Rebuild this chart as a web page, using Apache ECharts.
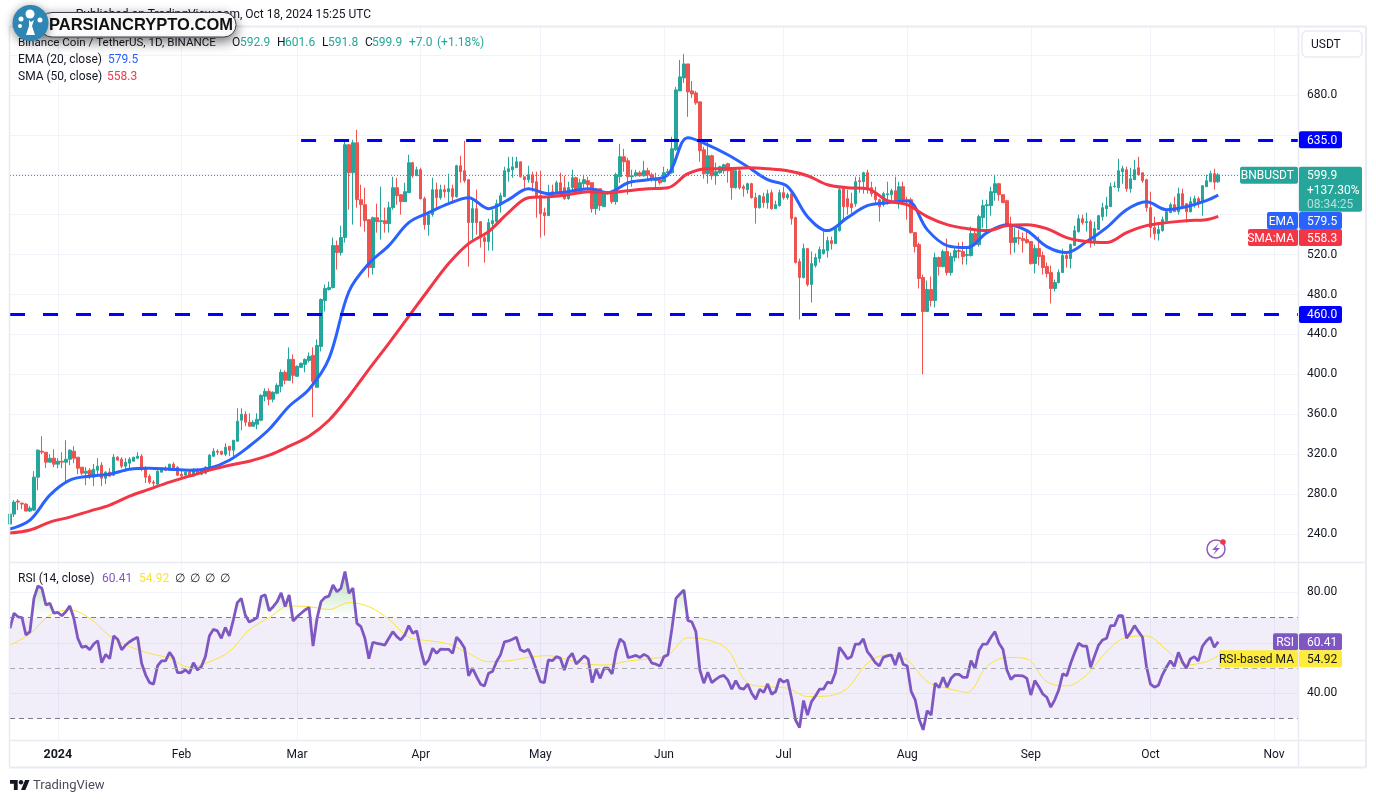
<!DOCTYPE html>
<html lang="en">
<head>
<meta charset="UTF-8">
<title>BNBUSDT 1D</title>
<script src="https://cdn.jsdelivr.net/npm/echarts@6/dist/echarts.min.js"></script>
<style>
  html, body { margin: 0; padding: 0; background: #fff; }
  #chart { width: 1376px; height: 803px; }
</style>
</head>
<body>
<div id="chart"></div>
<script>
// daily candles. index 0 is 2023-12-20
const opens = [
  250,260,273,271,270,263,264,297,323,322,
  312,316,310,313,312,315,323,317,307,301,
  304,297,304,309,296,302,299,317,315,308,
  311,313,316,318,305,298,292,290,302,306,
  304,310,307,300,299,302,298,304,300,301,
  306,318,323,323,320,328,324,333,354,360,
  352,348,350,354,378,383,375,381,388,402,
  394,415,398,407,410,414,419,387,428,474,
  485,487,529,522,537,630,602,632,575,570,
  555,507,557,553,554,551,567,587,580,573,
  582,612,599,605,576,550,560,585,577,585,
  583,586,578,609,604,595,552,566,553,537,
  533,551,553,570,578,603,605,607,613,598,
  595,600,593,579,562,559,583,582,592,587,
  576,587,597,583,591,594,592,566,586,568,
  582,582,573,598,618,614,598,599,602,599,
  604,600,594,595,593,602,602,625,684,697,
  711,684,682,673,625,601,619,599,602,604,
  611,605,587,604,588,585,591,577,567,578,
  572,582,566,569,582,577,581,557,513,497,
  526,490,509,516,521,524,534,531,544,586,
  576,571,571,594,593,602,587,582,575,570,
  580,580,584,572,588,574,575,542,530,497,
  463,485,474,517,508,523,502,517,524,523,
  519,519,541,530,557,569,569,582,591,580,
  574,549,532,537,536,535,533,511,526,519,
  508,502,486,492,502,519,516,529,543,556,
  552,553,534,545,558,566,568,588,587,603,
  605,586,595,607,602,595,567,547,541,544,
  554,562,570,563,581,571,563,572,576,572,
  588,593,601,592.9
];
const closes = [
  260,272,272,270,263,266,297,324,322,312,
  316,310,313,312,315,324,316,306,301,303,
  298,305,308,296,302,298,317,314,308,312,
  315,317,318,305,297,292,291,303,306,304,
  310,306,299,298,302,298,304,300,303,307,
  319,323,322,320,327,324,334,353,360,352,
  348,352,355,379,383,375,382,389,402,394,
  415,399,408,411,415,418,393,429,475,486,
  487,529,522,537,630,602,632,575,570,554,
  507,557,553,554,551,567,587,579,573,583,
  612,599,605,576,550,560,585,577,585,583,
  586,578,609,603,594,552,566,552,537,533,
  552,554,571,579,604,606,608,613,598,595,
  600,592,578,561,559,578,579,592,582,576,
  587,597,582,592,595,590,566,586,569,583,
  581,573,600,618,613,598,599,602,599,604,
  600,595,595,592,602,603,626,685,698,711,
  683,681,672,624,601,619,599,603,608,610,
  604,587,604,587,586,591,577,567,579,572,
  581,566,570,582,577,580,556,512,497,526,
  490,511,517,525,525,534,531,547,585,568,
  568,567,593,593,602,586,581,575,568,581,
  581,584,572,588,575,573,542,528,496,463,
  485,474,517,508,523,502,518,524,523,518,
  520,541,530,558,569,570,583,591,580,572,
  548,532,537,536,534,532,511,526,518,507,
  501,486,492,502,519,516,530,544,556,552,
  553,533,546,559,567,569,588,588.5,604,606,
  586,596,605,600,594,567,547,541,545,555,
  563,570,563,581,569,563,573,576,571,589,
  594,601,592.5,599.9
];
const highs = [
  262,274,275,271,271,268,303,325,338,322,
  320,325,316,322,334,325,328,317,307,307,
  306,310,316,312,303,306,320,318,317,316,
  317,317,322,320,308,300,294,304,307,308,
  310,312,308,304,303,304,306,306,305,308,
  320,326,325,323,331,328,334,366,366,363,
  361,354,361,380,386,386,383,391,405,404,
  427,420,409,412,416,422,427,435,476,490,
  493,537,534,549,635,631,635,645,590,587,
  555,558,571,588,567,573,598,597,580,592,
  620,613,608,607,578,563,597,592,590,590,
  601,590,610,619,634,595,576,585,553,542,
  556,565,575,582,608,618,618,618,613,598,
  609,603,603,604,567,590,590,594,602,599,
  593,605,598,596,600,598,592,587,586,583,
  583,583,602,631,626,617,605,605,604,614,
  607,602,602,597,608,606,638,688,715,721,
  711,694,684,673,628,635,620,612,609,611,
  612,606,605,606,590,592,592,582,580,582,
  585,585,574,585,588,582,583,558,516,531,
  526,523,521,528,545,538,538,548,587,587,
  585,582,598,598,603,605,593,588,576,583,
  593,586,598,593,593,578,577,542,532,500,
  494,498,522,518,525,536,522,527,532,533,
  527,548,545,560,575,575,588,600,592,580,
  575,558,547,545,542,543,533,530,538,523,
  512,509,495,505,526,522,531,549,560,560,
  562,555,553,559,572,578,592,593,616,609,
  608,607,615,618,602,596,583,558,551,558,
  564,572,578,587,586,571,578,579,578,589,
  600,604,606,601.6
];
const lows = [
  248,257,264,265,263,262,263,284,320,306,
  312,307,306,306,293,309,311,300,299,289,
  295,288,299,288,290,298,298,314,306,305,
  306,313,315,303,291,290,288,290,302,303,
  304,306,298,297,299,298,298,299,299,300,
  304,317,319,319,318,318,318,333,344,348,
  348,348,345,353,373,369,372,380,382,390,
  394,391,398,407,402,412,357,387,423,463,
  484,486,505,519,532,565,550,567,548,543,
  497,500,542,535,542,542,565,570,560,573,
  582,597,599,575,545,539,558,565,575,577,
  572,571,577,592,592,508,535,540,527,512,
  524,524,549,562,578,593,597,607,597,586,
  592,583,557,537,539,559,577,580,580,575,
  575,582,582,582,587,585,562,560,564,568,
  580,571,570,592,603,580,588,598,598,598,
  595,593,587,590,593,598,601,624,684,692,
  658,677,670,613,596,591,595,590,601,601,
  592,575,586,585,578,581,576,551,566,567,
  566,565,566,568,575,575,550,511,455,496,
  488,472,507,512,520,517,525,531,543,553,
  560,561,568,582,581,581,578,570,553,568,
  570,572,571,566,570,555,541,522,486,400,
  463,468,467,499,507,499,499,513,516,510,
  510,518,529,528,547,546,559,574,574,572,
  548,520,522,530,522,531,510,501,509,500,
  497,471,483,491,502,507,506,529,542,550,
  543,527,529,545,554,558,568,587,583,591,
  583,582,595,599,592,563,537,535,534,543,
  552,562,563,560,566,552,562,567,567,559,
  588,593,585,591.8
];

// moving averages read every 5th candle, plus the last one
const ema20 = [
  245,254,279,294,298,300,305,306,305,304,306,314,328,345,368,385,416,483,511,529,
  552,562,571,577,566,575,586,581,583,586,582,592,595,600,637,630,620,608,595,588,
  558,544,557,569,572,574,545,529,527,542,550,544,528,522,533,547,565,573,565,568,
  574,579.5
];
const sma50 = [
  241,244,252,257,263,269,278,285,292,298,304,309,313,319,328,338,354,378,405,431,
  458,485,511,531,543,562,577,578,580,583,582,584,586,587,601,606,606,607,606,604,
  599,590,587,586,574,570,558,550,546,544,549,550,546,537,533,532,542,549,552,554,
  555,558.3
];
const rsiMa = [
  59.1,63.5,71,73,69.7,62.7,58.5,55.8,53.9,50.3,52.5,56.5,65.1,70,74.6,74.3,73.2,75.9,74.3,69.3,
  62.2,60.8,59.5,55.8,52.5,52.8,54.2,54.9,53.2,51.5,51.2,52.8,53.6,55.2,62,61.1,57.2,44,42.6,42,
  38.7,38.9,42,51.9,55.2,53.2,44.6,42,40.4,50.6,54.2,53.6,44.6,42.9,47.3,56.5,62.2,62.7,57.2,51.2,
  52.5,54.92
];
const rsi14 = [
  65.7,71.7,70.3,70,63.1,64.4,77.6,82.5,81.6,75,
  75.6,71.7,72,70.7,72.3,74.6,69.7,61.8,58.2,58.7,
  57.2,59.5,60.8,52.1,55.4,53.7,62.7,61.4,57.2,59.1,
  60.4,61.4,62.2,51.9,47.3,44.2,43.6,50.8,52.8,52.8,
  56.2,53.9,48.2,48.2,49.2,47.9,52.1,49.2,50.6,54.5,
  62.7,65.3,64.7,61.8,66.1,62.7,69,75.9,77.6,71,
  68.2,69,70,78.3,79,72.7,74.3,76.3,79.8,74.3,
  78.9,68.6,70.3,71.7,73,74,58.7,69.7,76.3,78,
  78.5,82.9,80.2,81.6,88.2,79.6,81.6,67.7,66.4,61.8,
  53.7,60.2,59.8,59.5,59.1,61.8,64.4,62.4,61.1,63.1,
  66.8,63.7,64.7,57.2,51.2,53.2,57.8,55.8,57.5,57.4,
  57.4,55.8,62.2,60.4,57.8,46.9,49.9,46.6,43.6,42.9,
  47.9,48.6,52.5,55.2,60.4,60.7,61.4,62.2,57.2,56.5,
  57.4,53.9,49.2,44.6,44.2,53.2,52.9,54.5,53.9,49.2,
  53.9,55.8,51.6,53.2,54.8,53.5,44.2,49.5,45.9,49.9,
  49.9,47.7,56.5,61.5,60.1,54.1,54.5,55,54.2,55.4,
  54.5,51.9,51.5,50.8,54.5,55.2,65.7,77.6,79.3,80.9,
  68.8,68.2,64.4,49.2,44,48.3,44.2,45.5,46.6,47.1,
  45.3,41.6,45,42,41.6,43.6,40,37.6,41.6,40.3,
  43.7,39.6,40.7,45.7,44.4,45.3,38,29.4,26.4,37.1,
  31.3,36.7,38.9,41.6,41.6,44.4,44,48.2,58.2,56.1,
  53.7,54.5,59.5,59.5,61.5,56.5,54.5,52.1,50.8,54.2,
  54.8,55.2,51.2,56.1,51.5,50.8,40.7,37.4,29.7,25.5,
  33.1,31.4,44,42.2,46.3,42.4,45.9,47.5,47.5,46.3,
  46.3,52.9,49.8,56.9,59.5,59.5,62.2,64.4,59.8,57.4,
  49.2,45.5,47,47,46.9,45.9,39.3,45,42.6,39.7,
  38.4,34.5,37.4,41.3,47.7,46.9,51.9,56.1,59.8,58.7,
  58.7,50.3,54.8,59.1,61.1,61.8,66.8,66.8,70.7,70.7,
  61.8,64,66.8,64.4,62.2,50.6,43.6,42.4,43.2,47.3,
  50.3,52.9,50.6,56.2,52.5,49.9,53.6,54.5,52.8,58.5,
  60.7,62.2,58.2,60.41
];

const priceTicks = [240,280,320,360,400,440,480,520,560,600,640,680,720];
const priceLabels = [240,280,320,360,400,440,480,520,680];
const rsiTicks = [40,60,80];
const rsiLabels = [40,80];
const resistance = 635.0;
const support = 460.0;
const lastPrice = 599.9;
const lastEma = 579.5;
const lastSma = 558.3;
const lastRsi = 60.41;
const lastRsiMa = 54.92;

// day categories, the axis runs on past the last candle to about Nov 8
const days = [];
for (let d = new Date(Date.UTC(2023, 11, 20)); days.length < 324; d.setUTCDate(d.getUTCDate() + 1)) {
  days.push(d.toISOString().slice(0, 10));
}
const monthNames = ['Jan','Feb','Mar','Apr','May','Jun','Jul','Aug','Sep','Oct','Nov','Dec'];
const isMonthStart = (i) => days[i].slice(8) === '01';

const candles = opens.map((o, i) => [o, closes[i], lows[i], highs[i]]);
const sampled = (arr) => arr.map((v, k) => [days[Math.min(k * 5, opens.length - 1)], v]);

const FONT = 'Roboto, sans-serif';
const FS = 12;
const GRID = '#f0f3fa';
const UP = '#26a69a';
const DOWN = '#ef5350';
const YELLOW = '#fbe33b';
const PANE_L = 10, PANE_R = 1298;

const chart = echarts.init(document.getElementById('chart'), null, { renderer: 'canvas' });

chart.setOption({
  animation: false,
  backgroundColor: '#fff',
  textStyle: { fontFamily: FONT },
  grid: [
    { left: PANE_L, width: PANE_R - PANE_L, top: 28, height: 534 },
    { left: PANE_L, width: PANE_R - PANE_L, top: 563, height: 177.7 }
  ],
  xAxis: [
    {
      type: 'category', gridIndex: 0, data: days, boundaryGap: false,
      axisLine: { show: false }, axisTick: { show: false }, axisLabel: { show: false },
      splitLine: { show: true, interval: isMonthStart, lineStyle: { color: GRID, width: 1 } }
    },
    {
      type: 'category', gridIndex: 1, data: days, boundaryGap: false,
      axisLine: { show: false }, axisTick: { show: false },
      axisLabel: {
        interval: isMonthStart, margin: 8, fontSize: FS, color: '#131722', fontFamily: FONT,
        hideOverlap: false,
        formatter: (v) => {
          const m = +v.slice(5, 7) - 1;
          return m === 0 ? '{y|2024}' : monthNames[m];
        },
        rich: { y: { fontWeight: 'bold', fontSize: 12.5, color: '#131722', fontFamily: FONT } }
      },
      splitLine: { show: true, interval: isMonthStart, lineStyle: { color: GRID, width: 1 } }
    }
  ],
  yAxis: [
    {
      type: 'value', gridIndex: 0, position: 'right', min: 212, max: 747,
      axisLine: { show: false },
      axisTick: { show: false, customValues: priceTicks },
      axisLabel: {
        customValues: priceLabels, margin: 9, fontSize: FS, color: '#131722', fontFamily: FONT,
        padding: [4, 0, 0, 0], formatter: (v) => v.toFixed(1)
      },
      splitLine: { show: true, lineStyle: { color: GRID, width: 1 } }
    },
    {
      type: 'value', gridIndex: 1, position: 'right', min: 21.2, max: 91.6,
      axisLine: { show: false },
      axisTick: { show: false, customValues: rsiTicks },
      axisLabel: {
        customValues: rsiLabels, margin: 9, fontSize: FS, color: '#131722', fontFamily: FONT,
        padding: [4, 0, 0, 0], formatter: (v) => v.toFixed(2)
      },
      splitLine: { show: true, lineStyle: { color: GRID, width: 1 } }
    }
  ],
  series: [
    {
      name: 'BNBUSDT', type: 'candlestick', xAxisIndex: 0, yAxisIndex: 0,
      data: candles, barWidth: 3,
      itemStyle: { color: UP, color0: DOWN, borderColor: UP, borderColor0: DOWN, borderWidth: 1 }
    },
    {
      name: 'EMA', type: 'line', xAxisIndex: 0, yAxisIndex: 0, data: sampled(ema20),
      smooth: 0.35, showSymbol: false, silent: true, lineStyle: { color: '#2962ff', width: 3 }
    },
    {
      name: 'SMA', type: 'line', xAxisIndex: 0, yAxisIndex: 0, data: sampled(sma50),
      smooth: 0.35, showSymbol: false, silent: true, lineStyle: { color: '#f23645', width: 3 }
    },
    {
      // levels: the two blue lines and the dotted last price
      name: 'levels', type: 'line', xAxisIndex: 0, yAxisIndex: 0, data: [], silent: true,
      markLine: {
        silent: true, symbol: 'none', label: { show: false },
        data: [
          [{ xAxis: '2024-03-02', yAxis: resistance }, { xAxis: days[days.length - 1], yAxis: resistance }],
          [{ xAxis: days[0], yAxis: support }, { xAxis: days[days.length - 1], yAxis: support }],
          [{ xAxis: days[0], yAxis: lastPrice, lineStyle: { color: UP, width: 1, type: [1, 2] } },
           { xAxis: days[days.length - 1], yAxis: lastPrice }]
        ],
        lineStyle: { color: '#0000ff', width: 3, type: [15, 18], opacity: 1 }
      }
    },
    {
      // purple 30-70 band with its dashed borders
      name: 'band', type: 'line', xAxisIndex: 1, yAxisIndex: 1, data: [], silent: true,
      markArea: {
        silent: true, itemStyle: { color: 'rgba(126,87,194,0.1)' },
        data: [[{ yAxis: 70, xAxis: days[0] }, { yAxis: 30, xAxis: days[days.length - 1] }]]
      },
      markLine: {
        silent: true, symbol: 'none', label: { show: false },
        lineStyle: { color: '#787b86', width: 1, type: [5, 4], opacity: 1 },
        data: [
          [{ xAxis: days[0], yAxis: 70 }, { xAxis: days[days.length - 1], yAxis: 70 }],
          [{ xAxis: days[0], yAxis: 50, lineStyle: { color: '#a9abb3' } }, { xAxis: days[days.length - 1], yAxis: 50 }],
          [{ xAxis: days[0], yAxis: 30 }, { xAxis: days[days.length - 1], yAxis: 30 }]
        ]
      }
    },
    {
      // green glow where RSI goes over 70
      name: 'overbought', type: 'line', xAxisIndex: 1, yAxisIndex: 1, silent: true,
      data: rsi14.map((v) => Math.max(v, 70)), showSymbol: false, lineStyle: { width: 0 },
      areaStyle: {
        origin: 70, opacity: 1,
        color: new echarts.graphic.LinearGradient(0, 0, 0, 1, [
          { offset: 0, color: 'rgba(76,175,80,0.4)' },
          { offset: 1, color: 'rgba(76,175,80,0)' }
        ])
      }
    },
    {
      name: 'RSI-based MA', type: 'line', xAxisIndex: 1, yAxisIndex: 1, data: sampled(rsiMa),
      smooth: 0.35, showSymbol: false, silent: true, lineStyle: { color: YELLOW, width: 1 }
    },
    {
      name: 'RSI', type: 'line', xAxisIndex: 1, yAxisIndex: 1, data: rsi14,
      showSymbol: false, silent: true, lineStyle: { color: '#7e57c2', width: 2.8 }
    }
  ]
});

// price scale tags and chart furniture, placed from the same scales
const py = (v) => chart.convertToPixel({ yAxisIndex: 0 }, v);
const ry = (v) => chart.convertToPixel({ yAxisIndex: 1 }, v);

function box(x, y, w, h, fill, r) {
  return { type: 'rect', shape: { x, y, width: w, height: h, r: r || 0 }, style: { fill }, z: 20 };
}
function label(x, y, text, fill, extra) {
  return {
    type: 'text', x, y: y + 1, z: 21,
    style: Object.assign({ text, fill, font: FS + 'px ' + FONT, textVerticalAlign: 'middle', textAlign: 'left' }, extra || {})
  };
}
function rule(x1, y1, x2, y2, w) {
  return { type: 'line', shape: { x1, y1, x2, y2 }, style: { stroke: '#e8ebf2', lineWidth: w || 1 }, z: 15 };
}
function tag(yc, value, fill, color, name, nameX) {
  const out = [box(1299, yc - 8.5, 43, 17, fill, 2), label(1307, yc, value, color)];
  if (name) {
    out.push(box(nameX, yc - 8.5, 1298 - nameX, 17, fill, 2));
    out.push(label(1294, yc, name, color, { textAlign: 'right' }));
  }
  return out;
}

const lastY = py(lastPrice);
const INK = '#131722';

const furniture = [
  // frame
  rule(9.5, 26.5, 1366, 26.5, 2),
  rule(9.5, 26.5, 9.5, 767, 1.5),
  rule(1366, 26.5, 1366, 767, 2),
  rule(9.5, 767.5, 1366, 767.5, 2),
  rule(9.5, 562.5, 1366, 562.5, 1.5),
  rule(9.5, 740.5, 1366, 740.5, 1.5),
  rule(1298.5, 26.5, 1298.5, 767, 1.5),

  // header
  label(371, 14, 'Published on TradingView.com, Oct 18, 2024 15:25 UTC', INK, { textAlign: 'right' }),
  label(18, 42, 'Binance Coin / TetherUS, 1D, BINANCE', INK, { font: '11.6px ' + FONT }),
  label(232, 42, 'O', INK), label(240, 42, '592.9', UP),
  label(277, 42, 'H', INK), label(285, 42, '601.6', UP),
  label(322, 42, 'L', INK), label(328, 42, '591.8', UP),
  label(365, 42, 'C', INK), label(372, 42, '599.9', UP),
  label(409, 42, '+7.0', UP), label(437, 42, '(+1.18%)', UP),
  label(18, 59, 'EMA (20, close)', INK),
  label(108, 59, '579.5', '#2962ff'),
  label(18, 76, 'SMA (50, close)', INK),
  label(107, 76, '558.3', '#f23645'),
  label(18, 578, 'RSI (14, close)', INK),
  label(102, 578, '60.41', '#7e57c2'),
  label(139, 578, '54.92', YELLOW),
  label(175, 578, '\u2205', INK),
  label(190, 578, '\u2205', INK),
  label(205, 578, '\u2205', INK),
  label(220, 578, '\u2205', INK),

  // USDT button
  { type: 'rect', shape: { x: 1302, y: 31, width: 60, height: 26, r: 5 }, style: { fill: '#fff', stroke: '#e8ebf2', lineWidth: 1.5 }, z: 20 },
  label(1311, 44, 'USDT', INK),

  // last price block
  box(1240, lastY - 8, 58, 17, UP, 2),
  label(1294, lastY, 'BNBUSDT', '#fff', { textAlign: 'right' }),
  box(1299, lastY - 8, 63, 45, UP, 2),
  label(1307, lastY, lastPrice.toFixed(1), '#fff'),
  label(1307, lastY + 15, '+137.30%', '#fff'),
  label(1307, lastY + 29, '08:34:25', 'rgba(255,255,255,0.65)'),

  // level tags
  ...tag(py(resistance), resistance.toFixed(1), '#0000ff', '#fff'),
  ...tag(py(support), support.toFixed(1), '#0000ff', '#fff'),
  // these two are pushed down under the price block, as on the original
  ...tag(220.5, lastEma.toFixed(1), '#2962ff', '#fff', 'EMA', 1267),
  ...tag(237.5, lastSma.toFixed(1), '#f23645', '#fff', 'SMA:MA', 1248),
  ...tag(ry(lastRsi), lastRsi.toFixed(2), '#7e57c2', '#fff', 'RSI', 1273),
  ...tag(ry(lastRsi) + 17, lastRsiMa.toFixed(2), '#ffeb3b', INK, 'RSI-based MA', 1219),

  // lightning icon
  { type: 'circle', shape: { cx: 1216, cy: 549, r: 9 }, style: { fill: '#fff', stroke: '#8e5bc4', lineWidth: 1.5 }, z: 20 },
  { type: 'polygon', shape: { points: [[1219, 543], [1212, 550], [1216, 550], [1213, 555], [1220, 548], [1216, 548]] }, style: { fill: '#8e5bc4' }, z: 21 },
  { type: 'circle', shape: { cx: 1223, cy: 542, r: 2.8 }, style: { fill: '#f23645' }, z: 22 },

  // TradingView logo
  { type: 'polygon', x: 10, y: 777.8, scaleX: 0.55, scaleY: 0.55, shape: { points: [[0, 4], [14, 4], [14, 22], [7, 22], [7, 11], [0, 11]] }, style: { fill: INK }, z: 20 },
  { type: 'polygon', x: 10, y: 777.8, scaleX: 0.55, scaleY: 0.55, shape: { points: [[27.5, 4], [35.5, 4], [28, 22], [20, 22]] }, style: { fill: INK }, z: 20 },
  { type: 'circle', shape: { cx: 21, cy: 782.2, r: 2.2 }, style: { fill: INK }, z: 20 },
  label(33, 785, 'TradingView', '#4a4e59', { font: '13px ' + FONT }),

  // site watermark
  {
    type: 'rect', shape: { x: 40, y: 12.5, width: 196, height: 24.5, r: 12 },
    style: { fill: '#fff', stroke: '#3a3f4a', lineWidth: 1, shadowBlur: 12, shadowColor: 'rgba(0,0,0,0.55)', shadowOffsetY: 4 }, z: 30
  },
  Object.assign(label(49, 24, 'PARSIANCRYPTO.COM', '#111', { font: 'bold 16.5px "Liberation Sans", sans-serif' }), { z: 31 }),
  {
    type: 'circle', shape: { cx: 30.5, cy: 23, r: 18 },
    style: { fill: '#2e86b5', shadowBlur: 10, shadowColor: 'rgba(0,0,0,0.45)', shadowOffsetY: 2 }, z: 31
  },
  { type: 'polygon', shape: { points: [[26, 35], [35, 35], [32, 26], [34, 20], [31, 22], [29, 20], [29, 26]] }, style: { fill: '#fff' }, z: 32 },
  { type: 'circle', shape: { cx: 30, cy: 14, r: 4.5 }, style: { fill: '#fff' }, z: 32 },
  { type: 'circle', shape: { cx: 21, cy: 19, r: 2.5 }, style: { fill: '#fff' }, z: 32 },
  { type: 'circle', shape: { cx: 40, cy: 20, r: 2.5 }, style: { fill: '#fff' }, z: 32 },
  { type: 'circle', shape: { cx: 20, cy: 26, r: 2 }, style: { fill: '#fff' }, z: 32 }
];

chart.setOption({ graphic: furniture });
</script>
</body>
</html>
